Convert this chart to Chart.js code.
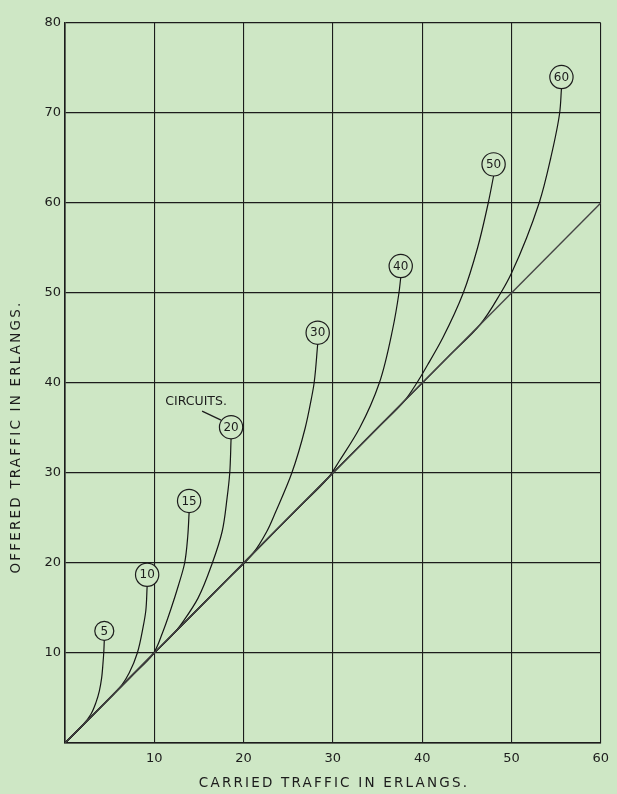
<!DOCTYPE html>
<html>
<head>
<meta charset="utf-8">
<script src="https://cdn.jsdelivr.net/npm/chart.js@4.4.0/dist/chart.umd.min.js"></script>
<style>
  html,body{margin:0;padding:0;background:#cee7c5;}
  #wrap{width:617px;height:794px;position:relative;}
</style>
</head>
<body>
<div id="wrap"><canvas id="c"></canvas></div>
<script>
// circuit sizes, each with carried (x) / offered (y) traffic
const circuits = [5, 10, 15, 20, 30, 40, 50, 60];
const carried5  = [0, 1.2, 2.0, 2.9, 3.5, 3.85, 4.1, 4.25, 4.35, 4.4];
const offered5  = [0, 1.2, 2.0, 3.2, 4.6, 5.8, 7.2, 8.8, 10.2, 11.4];
const carried10 = [0, 4, 5.5, 6.4, 7.2, 8.1, 8.75, 9.05, 9.2];
const offered10 = [0, 4, 5.5, 6.5, 7.8, 10, 12.9, 14.7, 17.4];
const carried15 = [0, 7.5, 9.8, 10.9, 11.9, 12.7, 13.4, 13.75, 13.9];
const offered15 = [0, 7.5, 9.8, 12.2, 15, 17.5, 20, 23, 25.6];
const carried20 = [0, 10, 12.3, 13.3, 14.9, 16.5, 17.6, 18.15, 18.45, 18.6];
const offered20 = [0, 10, 12.3, 13.6, 16.1, 20, 23.5, 27.2, 30, 33.8];
const carried30 = [0, 18, 21, 22.6, 23.6, 25.4, 26.9, 27.6, 27.9, 28.3];
const offered30 = [0, 18, 21, 23.5, 25.7, 30, 35, 38.3, 40, 44.3];
const carried40 = [0, 26, 29.5, 30.7, 33.0, 35.2, 36.7, 37.4, 37.6];
const offered40 = [0, 26, 29.5, 31.3, 35, 40, 46, 50, 51.7];
const carried50 = [0, 35, 38, 39.4, 40.6, 42.3, 44.6, 46.2, 47.4, 48.0];
const offered50 = [0, 35, 38, 40, 42, 45, 50, 55, 60, 63];
const carried60 = [0, 43, 46.5, 48.8, 50, 53.1, 54.4, 55.4, 55.6];
const offered60 = [0, 43, 46.5, 50, 52.2, 60, 65, 70, 72.7];
const diagCarried = [0, 60];
const diagOffered = [0, 60];
const xTicks = [10, 20, 30, 40, 50, 60];
const yTicks = [10, 20, 30, 40, 50, 60, 70, 80];

const carriedSets = [carried5, carried10, carried15, carried20, carried30, carried40, carried50, carried60];
const offeredSets = [offered5, offered10, offered15, offered20, offered30, offered40, offered50, offered60];
const pts = (xs, ys) => xs.map((x, i) => ({x, y: ys[i]}));

const datasets = [{
  label: 'diagonal',
  data: pts(diagCarried, diagOffered),
  borderColor: '#444', borderWidth: 1.3, pointRadius: 0, tension: 0
}];
circuits.forEach((n, i) => {
  datasets.push({
    label: String(n),
    data: pts(carriedSets[i], offeredSets[i]),
    indexAxis: 'y',
    borderColor: '#151515', borderWidth: 1.2, pointRadius: 0,
    cubicInterpolationMode: 'monotone'
  });
});

const FONT = '"DejaVu Sans", sans-serif';
const INK = '#1c1c1c';

const decor = {
  id: 'decor',
  afterDatasetsDraw(chart) {
    const ctx = chart.ctx;
    const xs = chart.scales.x, ys = chart.scales.y;
    ctx.save();
    ctx.font = '12px ' + FONT;
    ctx.textAlign = 'center';
    ctx.textBaseline = 'middle';
    let c20 = null;
    circuits.forEach((n, i) => {
      const cx = carriedSets[i], oy = offeredSets[i];
      const px = xs.getPixelForValue(cx[cx.length - 1]);
      const py = ys.getPixelForValue(oy[oy.length - 1]);
      const txt = String(n);
      const r = Math.max(9.5, ctx.measureText(txt).width / 2 + 4);
      const cy = py - r;
      ctx.beginPath();
      ctx.arc(px, cy, r, 0, Math.PI * 2);
      ctx.fillStyle = '#cee7c5';
      ctx.fill();
      ctx.lineWidth = 1.2;
      ctx.strokeStyle = INK;
      ctx.stroke();
      ctx.fillStyle = INK;
      ctx.fillText(txt, px, cy + 0.5);
      if (n === 20) c20 = {x: px, y: cy};
    });
    if (c20) {
      ctx.font = '12.5px ' + FONT;
      ctx.fillText('CIRCUITS.', c20.x - 35, c20.y - 25);
      ctx.beginPath();
      ctx.moveTo(c20.x - 29, c20.y - 16);
      ctx.lineTo(c20.x - 10, c20.y - 7);
      ctx.lineWidth = 1.2;
      ctx.stroke();
    }
    ctx.restore();
  },
  afterDraw(chart) {
    const ctx = chart.ctx;
    ctx.save();
    ctx.fillStyle = INK;
    ctx.font = '13.5px ' + FONT;
    ctx.letterSpacing = '2.2px';
    ctx.textAlign = 'center';
    ctx.textBaseline = 'middle';
    ctx.fillText('CARRIED TRAFFIC IN ERLANGS.', 334, 783);
    ctx.translate(16, 437);
    ctx.rotate(-Math.PI / 2);
    ctx.fillText('OFFERED TRAFFIC IN ERLANGS.', 0, 0);
    ctx.restore();
  }
};

new Chart(document.getElementById('c'), {
  type: 'line',
  data: { datasets },
  options: {
    responsive: true, maintainAspectRatio: false, animation: false,
    layout: { padding: { left: 0, right: 10, top: 23, bottom: 0 } },
    plugins: { legend: { display: false }, tooltip: { enabled: false } },
    scales: {
      x: {
        type: 'linear', min: 0, max: 60,
        afterFit: s => { s.height = 51; },
        afterBuildTicks: s => { s.ticks = [0].concat(xTicks).map(v => ({value: v})); },
        ticks: { color: INK, font: { family: FONT, size: 13 }, padding: 8,
                 callback: v => v === 0 ? '' : v },
        grid: { color: INK, lineWidth: 1.1, drawTicks: false },
        border: { color: INK, width: 1.6 }
      },
      y: {
        type: 'linear', min: 0, max: 80,
        afterFit: s => { s.width = 65; },
        afterBuildTicks: s => { s.ticks = [0].concat(yTicks).map(v => ({value: v})); },
        ticks: { color: INK, font: { family: FONT, size: 13 }, padding: 4,
                 callback: v => v === 0 ? '' : v },
        grid: { color: INK, lineWidth: 1.3, drawTicks: false },
        border: { color: INK, width: 1.6 }
      }
    }
  },
  plugins: [decor]
});
</script>
</body>
</html>
